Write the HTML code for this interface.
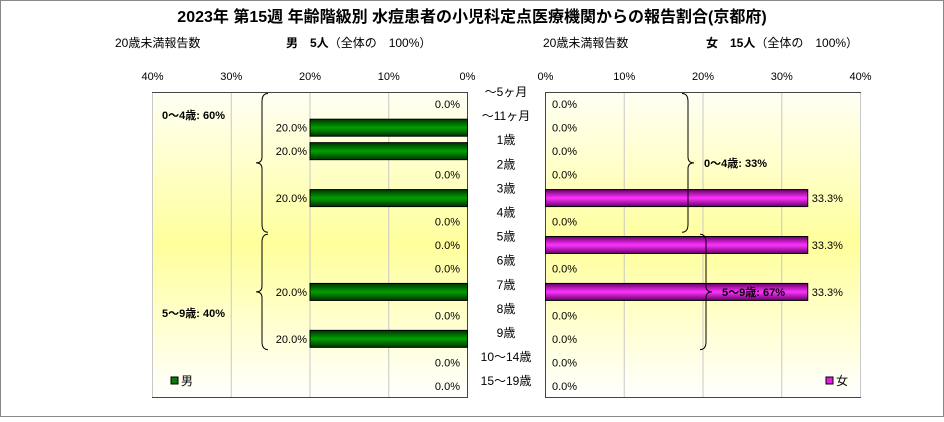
<!DOCTYPE html>
<html><head><meta charset="utf-8"><style>
body{margin:0;background:#fff}
svg text{font-family:"Liberation Sans","Noto Sans CJK JP",sans-serif;fill:#000}
</style></head><body>
<svg id="c" width="944" height="417" xmlns="http://www.w3.org/2000/svg">
<defs>
<linearGradient id="bg" x1="0" y1="0" x2="0" y2="1">
<stop offset="0" stop-color="#fffff4"/><stop offset="0.5" stop-color="#ffff9c"/><stop offset="1" stop-color="#ffffff"/></linearGradient>
<linearGradient id="gm" x1="0" y1="0" x2="0" y2="1"><stop offset="0" stop-color="#003300"/><stop offset="0.5" stop-color="#00a000"/><stop offset="1" stop-color="#003300"/></linearGradient>
<linearGradient id="gf" x1="0" y1="0" x2="0" y2="1"><stop offset="0" stop-color="#660066"/><stop offset="0.5" stop-color="#ff33ff"/><stop offset="1" stop-color="#660066"/></linearGradient>
</defs>
<rect x="0.5" y="0.5" width="943" height="416" fill="#fff" stroke="#888"/>
<text x="472" y="22" text-anchor="middle" font-size="16" font-weight="bold">2023年 第15週 年齢階級別 水痘患者の小児科定点医療機関からの報告割合(京都府)</text>
<text x="115" y="47" font-size="12">20歳未満報告数</text>
<text x="286" y="47" font-size="12"><tspan font-weight="bold">男　5人</tspan>（全体の　100%）</text>
<text x="543" y="47" font-size="12">20歳未満報告数</text>
<text x="706" y="47" font-size="12"><tspan font-weight="bold">女　15人</tspan>（全体の　100%）</text>
<rect x="152.5" y="92.5" width="315" height="305" fill="url(#bg)" stroke="#444"/>
<rect x="545.5" y="92.5" width="315" height="305" fill="url(#bg)" stroke="#444"/>
<g id="g"></g>
</svg>
<script>
const categories=["～5ヶ月","～11ヶ月","1歳","2歳","3歳","4歳","5歳","6歳","7歳","8歳","9歳","10～14歳","15～19歳"];
const maleValues=[0,20,20,0,20,0,0,0,20,0,20,0,0];
const femaleValues=[0,0,0,0,33.3,0,33.3,0,33.3,0,0,0,0];
const ticks=[0,10,20,30,40];
const groups=[{label:"0～4歳",from:0,to:5,male:"60%",female:"33%"},{label:"5～9歳",from:6,to:10,male:"40%",female:"67%"}];
{
const NS="http://www.w3.org/2000/svg",g=document.getElementById('g');
const PLOT_TOP=92.5,H=305,band=H/categories.length;
const xm=v=>467.5-v/40*315, xf=v=>545.5+v/40*315, yc=i=>PLOT_TOP+(i+0.5)*band;
function el(t,a,txt){const e=document.createElementNS(NS,t);for(const k in a)e.setAttribute(k,a[k]);if(txt!==undefined)e.textContent=txt;g.appendChild(e);return e;}
ticks.forEach(t=>{
 if(t>0){let l=el('line',{x1:xm(t),x2:xm(t),y1:93,y2:397,stroke:'#c8c8c8'});
 
 
 l=el('line',{x1:xf(t),x2:xf(t),y1:93,y2:397,stroke:'#c8c8c8'});
 
 }
 let a=el('text',{x:xm(t),y:80,'text-anchor':'middle','font-size':11},t+'%');
 
 
 a=el('text',{x:xf(t),y:80,'text-anchor':'middle','font-size':11},t+'%');
 
 
});
categories.forEach((c,i)=>{
 let t=el('text',{x:506,y:96+i*24.1,'text-anchor':'middle','font-size':12},c);
 
 
 const m=maleValues[i],f=femaleValues[i],y=yc(i);
 if(m>0){let r=el('rect',{x:xm(m),y:y-8.5,width:467.5-xm(m),height:17,fill:'url(#gm)',stroke:'#000'});
  
  
  t=el('text',{x:xm(m)-3,y:y+4,'text-anchor':'end','font-size':11},m.toFixed(1)+'%');}
 else t=el('text',{x:460,y:y+4,'text-anchor':'end','font-size':11},m.toFixed(1)+'%');
 
 
 if(f>0){let r=el('rect',{x:545.5,y:y-8.5,width:xf(f)-545.5,height:17,fill:'url(#gf)',stroke:'#000'});
  
  
  t=el('text',{x:xf(f)+4,y:y+4,'font-size':11},f.toFixed(1)+'%');}
 else t=el('text',{x:552,y:y+4,'font-size':11},f.toFixed(1)+'%');
 
 
});
function brace(x,y1,y2,dir){const m=(y1+y2)/2,d=6*dir;
 return `M${x+d},${y1} Q${x},${y1} ${x},${y1+8} L${x},${m-6} Q${x},${m} ${x-d},${m} Q${x},${m} ${x},${m+6} L${x},${y2-8} Q${x},${y2} ${x+d},${y2}`;}
groups.forEach((gr,k)=>{
 const y1=PLOT_TOP+gr.from*band,y2=PLOT_TOP+(gr.to+1)*band,m=(y1+y2)/2;
 let p=el('path',{d:brace(262,y1+1,y2-1,1),fill:'none',stroke:'#000'});
 
 
 let t=el('text',{x:162,y:k==0?119:317,'font-size':11,'font-weight':'bold'},gr.label+": "+gr.male);
 
 
 const fx=k==0?688:706;
 p=el('path',{d:brace(fx,y1+1,y2-1,-1),fill:'none',stroke:'#000'});
 
 
 t=el('text',{x:fx+16,y:m+4,'font-size':11,'font-weight':'bold'},gr.label+": "+gr.female);
 
 
});
let r=el('rect',{x:171,y:377,width:7,height:7,fill:'#0a7a0a',stroke:'#000'});


let t=el('text',{x:181,y:385,'font-size':12},'男');


r=el('rect',{x:826,y:377,width:7,height:7,fill:'#e020e0',stroke:'#000'});


t=el('text',{x:836,y:385,'font-size':12},'女');


}
</script>
</body></html>
